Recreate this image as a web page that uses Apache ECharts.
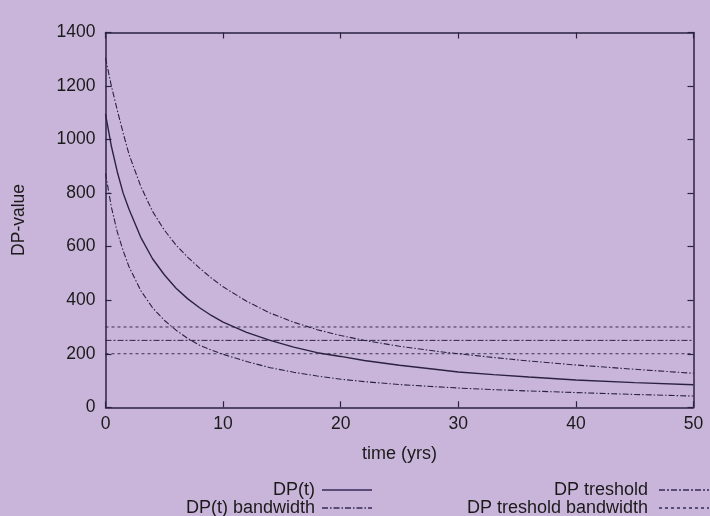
<!DOCTYPE html>
<html>
<head>
<meta charset="utf-8">
<title>DP-value over time</title>
<script src="https://cdn.jsdelivr.net/npm/echarts@6/dist/echarts.min.js"></script>
<style>
  html, body { margin: 0; padding: 0; background: #c9b5d9; }
  #chart { width: 710px; height: 516px; }
</style>
</head>
<body>
<div id="chart"></div>
<script>
// Sample times in years
const years = [0, 0.5, 1, 1.5, 2, 3, 4, 5, 6, 7, 8, 9, 10, 12, 14, 16, 18, 20, 22, 25, 28, 30, 33, 36, 40, 45, 50];
// Degree of polymerisation, central estimate
const dpValues = [1095, 975, 880, 800, 740, 635, 555, 495, 445, 405, 372, 343, 318, 280, 250, 225, 204, 190, 175, 157, 142, 132, 122, 113, 102, 92, 84];
// Upper and lower edges of the DP(t) bandwidth
const dpUpper = [1305, 1200, 1110, 1025, 945, 825, 732, 662, 606, 560, 520, 483, 450, 396, 352, 318, 290, 268, 250, 228, 210, 200, 186, 173, 158, 142, 127];
const dpLower = [874, 748, 655, 585, 525, 436, 372, 325, 288, 257, 232, 214, 198, 171, 148, 131, 117, 105, 96, 85, 77, 72, 66, 61, 55, 48, 42];
// End-of-life threshold and its band
const thresholdYears = [0, 50];
const thresholdValue = 250;
const thresholdBand = [300, 200];
// Axis ticks
const xTicks = [0, 10, 20, 30, 40, 50];
const yTicks = [0, 200, 400, 600, 800, 1000, 1200, 1400];
// Legend entries, laid out in two columns of two rows
const legendNames = ['DP(t)', 'DP(t) bandwidth', 'DP treshold', 'DP treshold bandwidth'];

const ink = '#2b2240';
const font = 'Liberation Sans, Arial, Helvetica, sans-serif';

const pairs = (xs, ys) => xs.map((x, i) => [x, ys[i]]);
const flat = (v) => thresholdYears.map(x => [x, v]);

const curve = (name, data, type, width) => ({
  name, type: 'line', data,
  symbol: 'none', smooth: false,
  lineStyle: { color: ink, width, type },
  itemStyle: { color: ink },
  emphasis: { disabled: true },
  animation: false
});

const bandDash = [6, 2, 1.5, 2];
const thrDash = [6, 2, 2, 2];
const thrBandDash = [3, 3];

const series = [
  curve(legendNames[0], pairs(years, dpValues), 'solid', 1.4),
  curve(legendNames[1], pairs(years, dpUpper), bandDash, 1.1),
  curve(legendNames[1], pairs(years, dpLower), bandDash, 1.1),
  curve(legendNames[2], flat(thresholdValue), thrDash, 1),
  curve(legendNames[3], flat(thresholdBand[0]), thrBandDash, 0.9),
  curve(legendNames[3], flat(thresholdBand[1]), thrBandDash, 0.9)
];

const axisLineStyle = { show: true, onZero: false, lineStyle: { color: ink, width: 1.5 } };
const tickStyle = { show: true, inside: true, length: 6, lineStyle: { color: ink, width: 1.2 } };
const labelStyle = { color: '#1a1a1a', fontFamily: font, fontSize: 17.5 };

// One legend per entry: icon on the right, text right-aligned before it
const legendEntry = (name, right, top, gap) => ({
  data: [name],
  orient: 'vertical',
  align: 'right',
  padding: 0,
  right, top,
  itemWidth: 50,
  itemHeight: 10,
  selectedMode: false,
  itemStyle: { opacity: 0, borderWidth: 0 },
  lineStyle: { color: '#5a4c78' },
  textStyle: { color: '#1a1a1a', fontFamily: font, fontSize: 18, lineHeight: 16, padding: [0, gap, 0, 0] }
});

const chart = echarts.init(document.getElementById('chart'), null, { renderer: 'canvas' });
chart.setOption({
  backgroundColor: '#c9b5d9',
  animation: false,
  grid: { left: 105.5, right: 16.5, top: 32.5, bottom: 108.7, containLabel: false },
  legend: [
    legendEntry(legendNames[0], 337, 481, 2),
    legendEntry(legendNames[1], 337, 499, 2),
    legendEntry(legendNames[2], 0, 481, 6),
    legendEntry(legendNames[3], 0, 499, 6)
  ],
  xAxis: [
    {
      type: 'value', min: xTicks[0], max: xTicks[xTicks.length - 1], interval: 10,
      name: 'time (yrs)', nameLocation: 'middle', nameGap: 38,
      nameTextStyle: Object.assign({}, labelStyle, { fontSize: 18 }),
      axisLine: axisLineStyle, axisTick: tickStyle,
      axisLabel: Object.assign({ margin: 8 }, labelStyle),
      splitLine: { show: false }
    },
    {
      type: 'value', position: 'top', min: xTicks[0], max: xTicks[xTicks.length - 1], interval: 10,
      axisLine: axisLineStyle, axisTick: tickStyle,
      axisLabel: { show: false }, splitLine: { show: false }
    }
  ],
  yAxis: [
    {
      type: 'value', min: yTicks[0], max: yTicks[yTicks.length - 1], interval: 200,
      name: 'DP-value', nameLocation: 'middle', nameGap: 77,
      nameTextStyle: labelStyle,
      axisLine: axisLineStyle, axisTick: tickStyle,
      axisLabel: Object.assign({ margin: 10, formatter: (v) => String(v) }, labelStyle),
      splitLine: { show: false }
    },
    {
      type: 'value', position: 'right', min: yTicks[0], max: yTicks[yTicks.length - 1], interval: 200,
      axisLine: axisLineStyle, axisTick: tickStyle,
      axisLabel: { show: false }, splitLine: { show: false }
    }
  ],
  series
});
</script>
</body>
</html>
